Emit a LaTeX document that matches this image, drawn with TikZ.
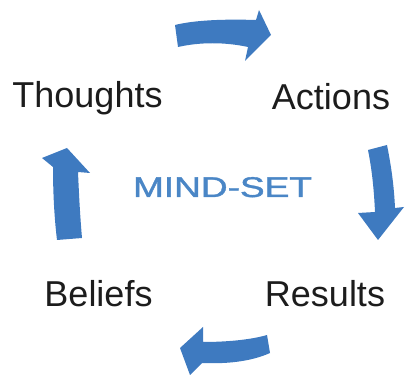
\documentclass[tikz,border=0pt]{standalone}
\usepackage{fontspec}
\setmainfont{Liberation Sans}
\newfontfamily\mindfont[FakeBold=1.2]{Liberation Sans}
\definecolor{arrowblue}{RGB}{62,122,192}
\definecolor{mindblue}{RGB}{74,134,198}
\definecolor{txt}{RGB}{28,28,28}
\begin{document}
\begin{tikzpicture}[x=1pt,y=-1pt,
  word/.style={anchor=base,inner sep=0pt,text=txt,font=\fontsize{36}{40}\selectfont},
  cyclearrow/.style={fill=arrowblue,draw=none}]
\useasboundingbox (0,0) rectangle (405,377);
% words
\node[word] (thoughts) at (87.5,108) {Thoughts};
\node[word] (actions) at (331,110) {Actions};
\node[word] (beliefs) at (98.5,307) {Beliefs};
\node[word] (results) at (325,307) {Results};
\node[anchor=base,inner sep=0pt,text=mindblue,font=\mindfont\fontsize{28.5}{32}\selectfont] (mind) at (222.5,197) {\scalebox{1.3}[1]{MIND-SET}};
% top arrow (Thoughts -> Actions)
\fill[cyclearrow] (175,25) .. controls (195,20) and (225,19) .. (256,20)
  -- (259,10) -- (271,35) -- (245,61) -- (248,47)
  .. controls (225,42) and (200,42) .. (178,47) -- cycle;
% right arrow (Actions -> Results)
\fill[cyclearrow] (368,150) .. controls (372,170) and (374,190) .. (375,212)
  -- (358,213) -- (378,240) -- (404,207) -- (395,208)
  .. controls (394,185) and (391,165) .. (387,145) -- cycle;
% bottom arrow (Results -> Beliefs)
\fill[cyclearrow] (267,335) .. controls (250,340) and (225,342) .. (203,342)
  -- (203,327) -- (180,348) -- (190,375) -- (202,363)
  .. controls (225,364) and (250,362) .. (270,353) -- cycle;
% left arrow (Beliefs -> Thoughts)
\fill[cyclearrow] (57,240) .. controls (54,215) and (53,190) .. (53,167)
  -- (42,158) -- (67,148) -- (90,173) -- (78,172)
  .. controls (79,195) and (80,215) .. (82,238) -- cycle;
\end{tikzpicture}
\end{document}
